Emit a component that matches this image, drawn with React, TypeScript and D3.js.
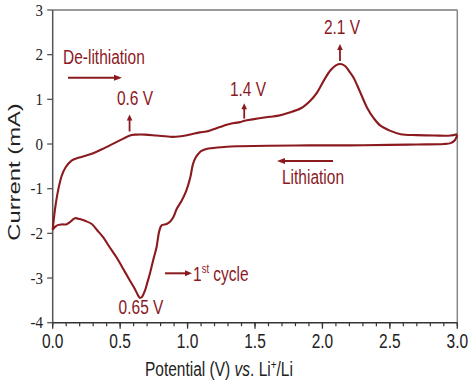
import React from "react";
import * as d3 from "d3";

const anodicV = [0, 0.017, 0.042, 0.067, 0.096, 0.14, 0.19, 0.29, 0.39, 0.49, 0.585, 0.62, 0.685, 0.77, 0.89, 1.0, 1.09, 1.14, 1.24, 1.29, 1.344, 1.39, 1.42, 1.44, 1.52, 1.61, 1.665, 1.75, 1.84, 1.91, 1.96, 2.01, 2.06, 2.1, 2.135, 2.17, 2.2, 2.23, 2.28, 2.33, 2.38, 2.43, 2.5, 2.58, 2.7, 2.83, 2.95, 3.0];
const anodicI = [-1.92, -1.46, -1.01, -0.71, -0.52, -0.37, -0.31, -0.22, -0.08, 0.07, 0.2, 0.21, 0.21, 0.19, 0.16, 0.2, 0.26, 0.28, 0.38, 0.43, 0.47, 0.49, 0.52, 0.53, 0.57, 0.61, 0.63, 0.7, 0.8, 0.97, 1.15, 1.42, 1.65, 1.76, 1.79, 1.74, 1.62, 1.49, 1.16, 0.82, 0.58, 0.41, 0.3, 0.22, 0.2, 0.19, 0.19, 0.22];

const cathodicV = [3.0, 2.98, 2.95, 2.9, 2.7, 2.5, 2.2, 1.9, 1.6, 1.39, 1.29, 1.19, 1.14, 1.1, 1.08, 1.06, 1.04, 1.02, 0.99, 0.956, 0.92, 0.894, 0.87, 0.845, 0.808, 0.79, 0.77, 0.745, 0.72, 0.7, 0.684, 0.66, 0.645, 0.635, 0.61, 0.573, 0.52, 0.474, 0.42, 0.375, 0.33, 0.29, 0.24, 0.2, 0.165, 0.128, 0.1, 0.07, 0.042, 0.02, 0];
const cathodicI = [0.2, 0.08, 0.02, 0.0, -0.01, -0.02, -0.03, -0.03, -0.04, -0.05, -0.06, -0.09, -0.11, -0.16, -0.22, -0.3, -0.45, -0.75, -1.05, -1.27, -1.45, -1.64, -1.74, -1.79, -1.82, -1.95, -2.31, -2.6, -2.91, -3.12, -3.28, -3.43, -3.44, -3.4, -3.25, -3.06, -2.78, -2.54, -2.3, -2.09, -1.93, -1.79, -1.72, -1.68, -1.66, -1.75, -1.8, -1.8, -1.81, -1.85, -1.92];

const xTicks = [0, 0.5, 1.0, 1.5, 2.0, 2.5, 3.0];
const xMinorTicks = d3.range(0, 31).map((d) => d / 10);
const yTicks = [-4, -3, -2, -1, 0, 1, 2, 3];

const RED = "#8b1a1f";

type TProps = {
  x: number;
  y: number;
  anchor?: string;
  family: string;
  size: number;
  fill: string;
  k?: number;
  children: React.ReactNode;
};

function T({ x, y, anchor = "start", family, size, fill, k = 1.25, children }: TProps) {
  return (
    <text transform={`translate(${x},${y}) scale(1,${k})`} textAnchor={anchor} fontFamily={family} fontSize={size} fill={fill}>
      {children}
    </text>
  );
}

export default function App() {
  const W = 474, H = 381;
  const left = 52.7, right = 457.3, top = 10, bottom = 322.7;
  const x = d3.scaleLinear().domain([0, 3]).range([left, right]);
  const y = d3.scaleLinear().domain([-4, 3]).range([bottom, top]);
  const line = d3
    .line<[number, number]>()
    .x((d) => x(d[0]))
    .y((d) => y(d[1]))
    .curve(d3.curveCatmullRom.alpha(0.5));
  const anodic: [number, number][] = anodicV.map((v, i) => [v, anodicI[i]]);
  const cathodic: [number, number][] = cathodicV.map((v, i) => [v, cathodicI[i]]);

  const sans = "'Liberation Sans', Arial, sans-serif";
  const serif = "'Liberation Serif', 'Times New Roman', serif";

  const upArrow = (vx: number, y0: number, y1: number) => (
    <g>
      <line x1={x(vx)} x2={x(vx)} y1={y(y0)} y2={y(y1) + 5} stroke={RED} strokeWidth={1.8} />
      <path d={`M${x(vx) - 2.8},${y(y1) + 6} L${x(vx)},${y(y1)} L${x(vx) + 2.8},${y(y1) + 6} Z`} fill={RED} />
    </g>
  );

  return (
    <svg width={W} height={H} style={{ position: "absolute", left: 0, top: 0 }}>
      <rect width={W} height={H} fill="#fff" />
      {/* frame */}
      <line x1={left} x2={right} y1={top} y2={top} stroke="#777" strokeWidth={1.5} />
      <line x1={right} x2={right} y1={top} y2={bottom} stroke="#888" strokeWidth={1.5} />
      <line x1={left} x2={left} y1={top} y2={bottom} stroke="#555" strokeWidth={1.5} />
      <line x1={left} x2={right} y1={bottom} y2={bottom} stroke="#333" strokeWidth={1.5} />
      {/* x ticks */}
      {xMinorTicks.map((t) => (
        <line key={"m" + t} x1={x(t)} x2={x(t)} y1={bottom} y2={bottom + 3.5} stroke="#333" strokeWidth={1.2} />
      ))}
      {xTicks.map((t) => (
        <g key={"x" + t}>
          <line x1={x(t)} x2={x(t)} y1={bottom} y2={bottom + 6} stroke="#333" strokeWidth={1.3} />
          <T x={x(t)} y={348} anchor="middle" family={sans} size={15.5} fill="#222">
            {t.toFixed(1)}
          </T>
        </g>
      ))}
      {/* y ticks */}
      {yTicks.map((t) => (
        <g key={"y" + t}>
          <line x1={left - 5.5} x2={left} y1={y(t)} y2={y(t)} stroke="#555" strokeWidth={1.3} />
          <T x={43} y={y(t) + 5.5} anchor="end" family={serif} size={15} k={1.12} fill="#222">
            {t}
          </T>
        </g>
      ))}
      {/* axis titles */}
      <T x={145} y={376} family={sans} size={15.5} fill="#222">
        Potential (V) <tspan fontStyle="italic">vs</tspan>. Li
        <tspan fontSize={10} dy={-6}>+</tspan>
        <tspan dy={6}>/Li</tspan>
      </T>
      <text transform={`translate(20,172) scale(1,1.4) rotate(-90)`} textAnchor="middle" fontFamily={sans} fontSize={17} fill="#222">
        Current (mA)
      </text>
      {/* curves */}
      <path d={line(anodic) || ""} fill="none" stroke={RED} strokeWidth={2.1} strokeLinejoin="round" />
      <path d={line(cathodic) || ""} fill="none" stroke={RED} strokeWidth={2.1} strokeLinejoin="round" />
      {/* annotations */}
      <T x={63} y={64} family={sans} size={15.5} fill={RED}>De-lithiation</T>
      <line x1={68} x2={116} y1={77.7} y2={77.7} stroke={RED} strokeWidth={2} />
      <path d="M114,74.7 L122,77.7 L114,80.7 Z" fill={RED} />

      <T x={135} y={104.5} anchor="middle" family={sans} size={15.5} fill={RED}>0.6 V</T>
      {upArrow(0.57, 0.28, 0.66)}
      <T x={248} y={95.5} anchor="middle" family={sans} size={15.5} fill={RED}>1.4 V</T>
      {upArrow(1.42, 0.57, 0.91)}
      <T x={342} y={34} anchor="middle" family={sans} size={15.5} fill={RED}>2.1 V</T>
      {upArrow(2.13, 1.86, 2.24)}

      <line x1={283} x2={333} y1={161} y2={161} stroke={RED} strokeWidth={2} />
      <path d="M285,158 L277,161 L285,164 Z" fill={RED} />
      <T x={282} y={184} family={sans} size={15.5} fill={RED}>Lithiation</T>

      <T x={141} y={314} anchor="middle" family={sans} size={15.5} fill={RED}>0.65 V</T>

      <line x1={165} x2={186} y1={273.3} y2={273.3} stroke={RED} strokeWidth={2} />
      <path d="M185,270.3 L192,273.3 L185,276.3 Z" fill={RED} />
      <T x={193} y={280.5} family={sans} size={15.5} fill={RED}>
        1<tspan fontSize={9.5} dy={-6}>st</tspan>
        <tspan dy={6}> cycle</tspan>
      </T>
    </svg>
  );
}
